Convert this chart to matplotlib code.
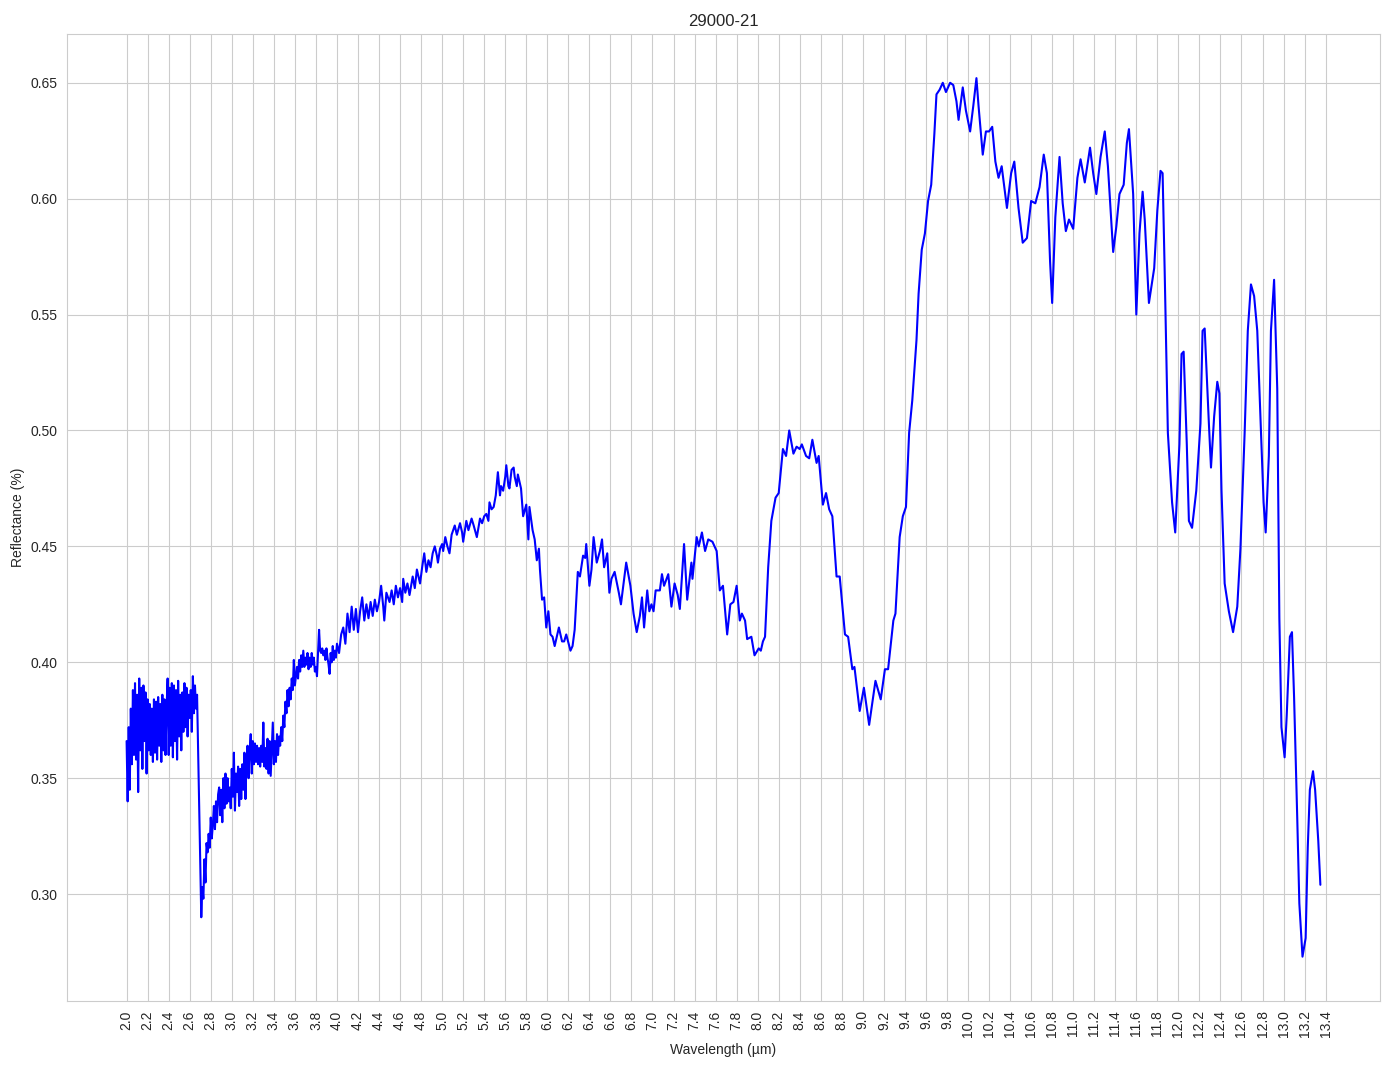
import matplotlib
matplotlib.use("Agg")
import matplotlib.pyplot as plt
import seaborn as sns
import numpy as np

# noisy part of the spectrum, 2.00 - 3.99 um, read every 0.01 um
noisy_start = 2.0
noisy_step = 0.01
noisy_refl = [
    0.366, 0.340, 0.372, 0.345, 0.380, 0.356, 0.388, 0.360, 0.391, 0.358,  # 2.00
    0.386, 0.344, 0.393, 0.362, 0.389, 0.354, 0.390, 0.366, 0.387, 0.352,  # 2.10
    0.384, 0.362, 0.382, 0.360, 0.380, 0.357, 0.384, 0.361, 0.383, 0.358,  # 2.20
    0.385, 0.364, 0.382, 0.357, 0.386, 0.362, 0.384, 0.360, 0.380, 0.393,  # 2.30
    0.360, 0.389, 0.364, 0.391, 0.359, 0.390, 0.366, 0.388, 0.358, 0.392,  # 2.40
    0.368, 0.386, 0.362, 0.387, 0.370, 0.391, 0.372, 0.389, 0.368, 0.386,  # 2.50
    0.376, 0.388, 0.370, 0.394, 0.378, 0.390, 0.380, 0.386, 0.362, 0.338,  # 2.60
    0.312, 0.290, 0.303, 0.298, 0.315, 0.305, 0.322, 0.318, 0.326, 0.320,  # 2.70
    0.333, 0.324, 0.330, 0.338, 0.328, 0.340, 0.331, 0.343, 0.346, 0.334,  # 2.80
    0.345, 0.331, 0.350, 0.337, 0.352, 0.339, 0.350, 0.340, 0.346, 0.337,  # 2.90
    0.354, 0.342, 0.361, 0.336, 0.352, 0.344, 0.355, 0.338, 0.354, 0.341,  # 3.00
    0.356, 0.345, 0.361, 0.341, 0.358, 0.364, 0.350, 0.362, 0.369, 0.352,  # 3.10
    0.366, 0.356, 0.365, 0.357, 0.364, 0.356, 0.363, 0.355, 0.364, 0.357,  # 3.20
    0.374, 0.355, 0.363, 0.354, 0.367, 0.352, 0.366, 0.351, 0.362, 0.374,  # 3.30
    0.356, 0.366, 0.357, 0.369, 0.360, 0.368, 0.364, 0.372, 0.366, 0.377,  # 3.40
    0.372, 0.383, 0.378, 0.388, 0.381, 0.389, 0.384, 0.393, 0.388, 0.401,  # 3.50
    0.390, 0.394, 0.398, 0.393, 0.401, 0.396, 0.403, 0.398, 0.405, 0.398,  # 3.60
    0.402, 0.399, 0.404, 0.397, 0.402, 0.398, 0.404, 0.399, 0.402, 0.396,  # 3.70
    0.398, 0.394, 0.404, 0.414, 0.405, 0.404, 0.406, 0.403, 0.405, 0.401,  # 3.80
    0.406, 0.402, 0.399, 0.395, 0.404, 0.400, 0.407, 0.401, 0.405, 0.402,  # 3.90
]

# rest of the spectrum, 4.00 - 13.35 um
wavelength = [
    4.00, 4.02, 4.04, 4.06, 4.08, 4.10, 4.12, 4.14, 4.16, 4.18,
    4.20, 4.22, 4.24, 4.26, 4.28, 4.30, 4.32, 4.34, 4.36, 4.38,
    4.40, 4.42, 4.44, 4.45, 4.47, 4.50, 4.52, 4.54, 4.56, 4.58,
    4.60, 4.62, 4.63, 4.65, 4.67, 4.69, 4.72, 4.74, 4.76, 4.78,
    4.79, 4.81, 4.83, 4.85, 4.87, 4.89, 4.91, 4.93, 4.95, 4.96,
    4.98, 5.00, 5.01, 5.03, 5.05, 5.07, 5.09, 5.12, 5.14, 5.17,
    5.19, 5.20, 5.23, 5.25, 5.28, 5.30, 5.33, 5.36, 5.38, 5.40,
    5.42, 5.44, 5.45, 5.47, 5.49, 5.51, 5.53, 5.55, 5.56, 5.58,
    5.60, 5.61, 5.63, 5.64, 5.66, 5.68, 5.69, 5.71, 5.72, 5.75,
    5.77, 5.80, 5.82, 5.83, 5.86, 5.88, 5.90, 5.92, 5.93, 5.95,
    5.97, 5.99, 6.01, 6.03, 6.05, 6.07, 6.11, 6.14, 6.16, 6.18,
    6.22, 6.24, 6.26, 6.29, 6.31, 6.34, 6.36, 6.37, 6.40, 6.42,
    6.44, 6.47, 6.50, 6.52, 6.54, 6.57, 6.59, 6.61, 6.64, 6.68,
    6.70, 6.75, 6.79, 6.82, 6.85, 6.88, 6.90, 6.92, 6.95, 6.97,
    6.99, 7.01, 7.03, 7.07, 7.09, 7.11, 7.15, 7.18, 7.21, 7.24,
    7.26, 7.30, 7.33, 7.37, 7.38, 7.42, 7.44, 7.47, 7.50, 7.53,
    7.57, 7.61, 7.64, 7.67, 7.71, 7.74, 7.77, 7.80, 7.83, 7.85,
    7.88, 7.90, 7.94, 7.97, 8.01, 8.03, 8.05, 8.07, 8.10, 8.13,
    8.17, 8.20, 8.24, 8.27, 8.30, 8.34, 8.37, 8.40, 8.42, 8.46,
    8.49, 8.52, 8.56, 8.58, 8.62, 8.65, 8.68, 8.71, 8.75, 8.78,
    8.80, 8.83, 8.86, 8.90, 8.92, 8.97, 9.01, 9.06, 9.12, 9.17,
    9.21, 9.24, 9.29, 9.31, 9.35, 9.38, 9.41, 9.44, 9.47, 9.51,
    9.53, 9.56, 9.59, 9.62, 9.65, 9.68, 9.70, 9.73, 9.76, 9.79,
    9.83, 9.86, 9.89, 9.91, 9.95, 9.98, 10.02, 10.05, 10.08, 10.10,
    10.14, 10.17, 10.20, 10.23, 10.26, 10.29, 10.32, 10.37, 10.41, 10.44,
    10.48, 10.52, 10.56, 10.60, 10.64, 10.68, 10.72, 10.75, 10.78, 10.80,
    10.83, 10.87, 10.90, 10.93, 10.96, 11.00, 11.04, 11.07, 11.11, 11.16,
    11.19, 11.22, 11.26, 11.30, 11.33, 11.38, 11.41, 11.44, 11.48, 11.51,
    11.53, 11.57, 11.60, 11.63, 11.66, 11.68, 11.72, 11.77, 11.80, 11.83,
    11.85, 11.87, 11.90, 11.94, 11.97, 12.01, 12.03, 12.05, 12.08, 12.10,
    12.13, 12.17, 12.21, 12.23, 12.25, 12.29, 12.31, 12.34, 12.37, 12.39,
    12.41, 12.44, 12.48, 12.52, 12.56, 12.59, 12.63, 12.66, 12.69, 12.72,
    12.75, 12.78, 12.81, 12.83, 12.86, 12.88, 12.91, 12.94, 12.96, 12.98,
    13.01, 13.03, 13.06, 13.08, 13.10, 13.13, 13.15, 13.18, 13.21, 13.23,
    13.25, 13.28, 13.30, 13.33, 13.35,
]
reflectance = [
    0.408, 0.404, 0.412, 0.415, 0.408, 0.421, 0.413, 0.424, 0.414, 0.423,
    0.413, 0.422, 0.428, 0.418, 0.425, 0.419, 0.426, 0.420, 0.427, 0.422,
    0.426, 0.433, 0.424, 0.418, 0.430, 0.426, 0.431, 0.425, 0.433, 0.428,
    0.432, 0.426, 0.436, 0.430, 0.434, 0.429, 0.437, 0.432, 0.440, 0.436,
    0.434, 0.441, 0.447, 0.439, 0.444, 0.441, 0.447, 0.450, 0.446, 0.443,
    0.449, 0.451, 0.448, 0.454, 0.450, 0.447, 0.455, 0.459, 0.455, 0.460,
    0.456, 0.452, 0.461, 0.457, 0.462, 0.459, 0.454, 0.462, 0.460, 0.463,
    0.464, 0.461, 0.469, 0.466, 0.467, 0.472, 0.482, 0.472, 0.476, 0.474,
    0.480, 0.485, 0.476, 0.475, 0.483, 0.484, 0.480, 0.476, 0.481, 0.475,
    0.463, 0.468, 0.453, 0.467, 0.457, 0.453, 0.444, 0.449, 0.440, 0.427,
    0.428, 0.415, 0.422, 0.412, 0.411, 0.407, 0.415, 0.409, 0.409, 0.412,
    0.405, 0.407, 0.414, 0.439, 0.437, 0.446, 0.445, 0.451, 0.433, 0.440,
    0.454, 0.443, 0.448, 0.453, 0.441, 0.447, 0.430, 0.436, 0.439, 0.430,
    0.425, 0.443, 0.433, 0.421, 0.413, 0.420, 0.428, 0.415, 0.431, 0.422,
    0.425, 0.422, 0.431, 0.431, 0.438, 0.433, 0.438, 0.424, 0.434, 0.429,
    0.423, 0.451, 0.427, 0.443, 0.436, 0.454, 0.450, 0.456, 0.448, 0.453,
    0.452, 0.448, 0.431, 0.433, 0.412, 0.425, 0.426, 0.433, 0.418, 0.421,
    0.418, 0.410, 0.411, 0.403, 0.406, 0.405, 0.409, 0.411, 0.441, 0.461,
    0.471, 0.473, 0.492, 0.489, 0.500, 0.490, 0.493, 0.492, 0.494, 0.489,
    0.488, 0.496, 0.486, 0.489, 0.468, 0.473, 0.466, 0.463, 0.437, 0.437,
    0.427, 0.412, 0.411, 0.397, 0.398, 0.379, 0.389, 0.373, 0.392, 0.384,
    0.397, 0.397, 0.418, 0.421, 0.454, 0.463, 0.467, 0.499, 0.513, 0.539,
    0.559, 0.578, 0.585, 0.599, 0.606, 0.628, 0.645, 0.647, 0.650, 0.646,
    0.650, 0.649, 0.642, 0.634, 0.648, 0.638, 0.629, 0.640, 0.652, 0.640,
    0.619, 0.629, 0.629, 0.631, 0.616, 0.609, 0.614, 0.596, 0.611, 0.616,
    0.596, 0.581, 0.583, 0.599, 0.598, 0.605, 0.619, 0.611, 0.573, 0.555,
    0.592, 0.618, 0.598, 0.586, 0.591, 0.587, 0.609, 0.617, 0.607, 0.622,
    0.611, 0.602, 0.618, 0.629, 0.614, 0.577, 0.588, 0.602, 0.606, 0.624,
    0.630, 0.602, 0.550, 0.585, 0.603, 0.591, 0.555, 0.570, 0.595, 0.612,
    0.611, 0.568, 0.499, 0.469, 0.456, 0.494, 0.533, 0.534, 0.494, 0.461,
    0.458, 0.474, 0.503, 0.543, 0.544, 0.503, 0.484, 0.506, 0.521, 0.516,
    0.474, 0.434, 0.422, 0.413, 0.424, 0.449, 0.499, 0.543, 0.563, 0.558,
    0.543, 0.506, 0.469, 0.456, 0.489, 0.543, 0.565, 0.518, 0.419, 0.372,
    0.359, 0.377, 0.411, 0.413, 0.385, 0.333, 0.296, 0.273, 0.281, 0.320,
    0.345, 0.353, 0.345, 0.323, 0.304,
]

x_ticks = [round(2.0 + 0.2 * i, 1) for i in range(58)]

sns.set_style("whitegrid")
plt.rcParams['font.family'] = ['Liberation Sans', 'DejaVu Sans']

noisy_wl = noisy_start + noisy_step * np.arange(len(noisy_refl))
wl = np.concatenate([noisy_wl, wavelength])
refl = np.concatenate([noisy_refl, reflectance])

fig, ax = plt.subplots(figsize=(13.94, 10.69), dpi=100)
fig.subplots_adjust(left=0.048, right=0.990, top=0.968, bottom=0.064)

ax.plot(wl, refl, color='blue', linewidth=1.5)
ax.set_title("29000-21", fontsize=12)
ax.set_xlabel("Wavelength (µm)", fontsize=10)
ax.set_ylabel("Reflectance (%)", fontsize=10)
ax.set_xticks(x_ticks)
ax.set_xticklabels([f"{t:.1f}" for t in x_ticks], rotation=90, fontsize=10)
ax.tick_params(axis='y', labelsize=10)

fig.savefig("out.png", dpi=100)
